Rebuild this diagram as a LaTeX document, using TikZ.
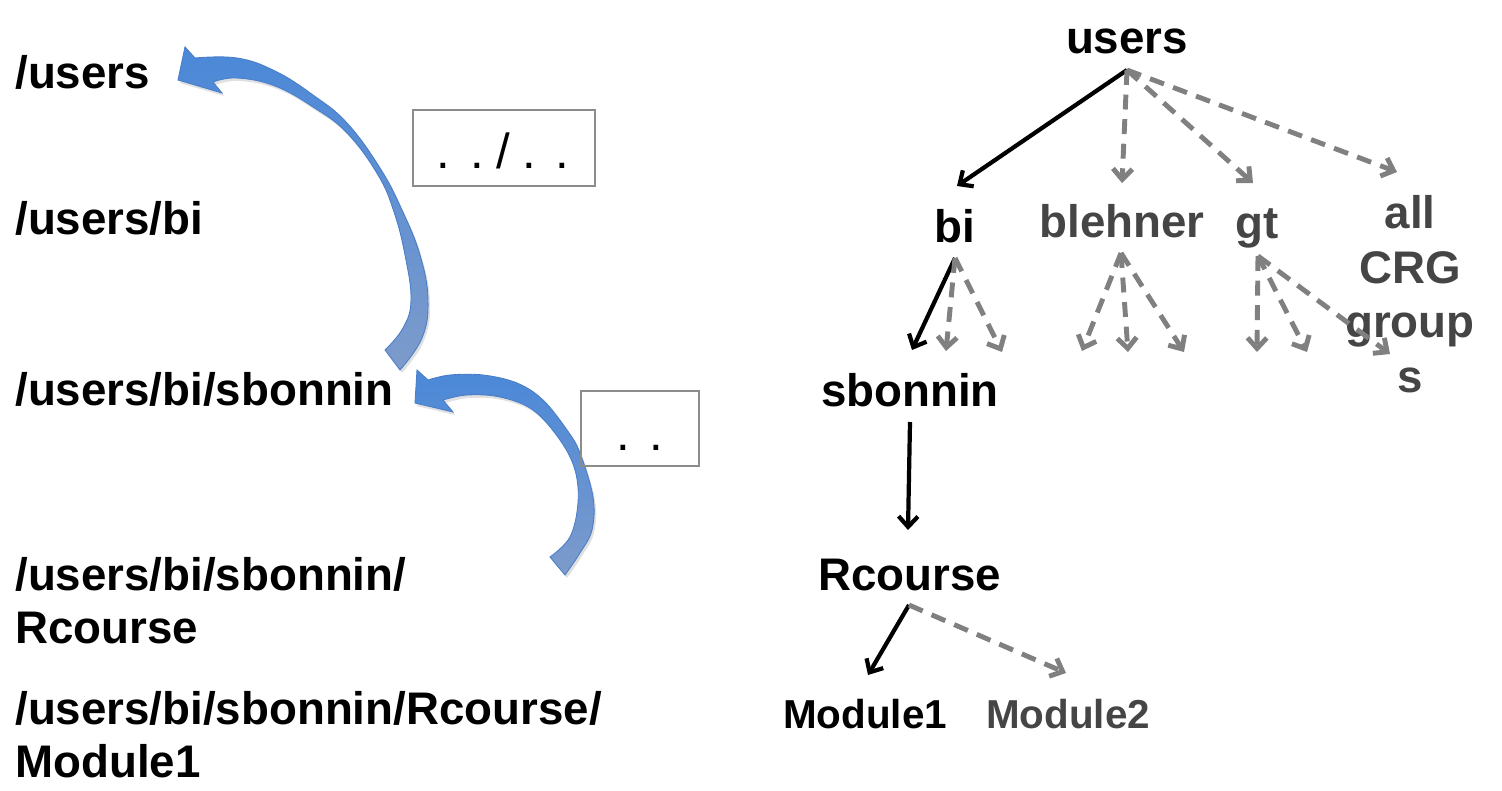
\documentclass[tikz,border=0pt]{standalone}
\usepackage{fontspec}
\setmainfont{Liberation Sans}
\usetikzlibrary{arrows.meta}
\definecolor{txtgray}{HTML}{454545}
\definecolor{dashgray}{HTML}{808080}
\definecolor{bluetop}{HTML}{4A88D8}
\definecolor{bluebot}{HTML}{7D9BCB}
\definecolor{blueedge}{HTML}{4A7EC8}
\definecolor{boxgray}{HTML}{8C8C8C}
\tikzset{
  big/.style={font=\fontsize{26}{31}\selectfont\bfseries, inner sep=0pt},
  small/.style={font=\fontsize{23}{27}\selectfont\bfseries, inner sep=0pt},
  grayt/.style={text=txtgray},
  solidarr/.style={draw=black, line width=2.4pt, -{Straight Barb[length=6pt,width=11pt,line width=2.4pt]}},
  dasharr/.style={draw=dashgray, line width=2.8pt, dash pattern=on 8.5pt off 5.5pt, -{Straight Barb[length=6pt,width=11pt,line width=2.8pt]}},
  pathbox/.style={draw=boxgray, line width=0.8pt, inner sep=0pt},
  bluearrow/.style={draw=blueedge, line width=0.5pt, top color=bluetop, bottom color=bluebot},
  shadowarrow/.style={fill=black, opacity=0.12},
}
\begin{document}
\begin{tikzpicture}[x=0.02cm, y=-0.02cm]
\useasboundingbox (0,0) rectangle (1502,791);

% ---- left column paths
\node[big, anchor=base west] (p1) at (15,88) {/users};
\node[big, anchor=base west] (p2) at (15,234) {/users/bi};
\node[big, anchor=base west] (p3) at (15,405) {/users/bi/sbonnin};
\node[big, anchor=base west] (p4a) at (15,590) {/users/bi/sbonnin/};
\node[big, anchor=base west] (p4b) at (15,643) {Rcourse};
\node[big, anchor=base west] (p5a) at (15,724) {/users/bi/sbonnin/Rcourse/};
\node[big, anchor=base west] (p5b) at (15,777) {Module1};

% ---- curved blue arrow 1 (../..)
\begin{scope}[shift={(2,3)}]
\fill[shadowarrow] plot[smooth, tension=0.7] coordinates {(400,370) (422,338) (428,300) (420,255) (402,210) (380,168) (347,123) (313,95) (275,71) (237,58) (195,58)}
  -- (185,47) -- (178,80) -- (222,93)
  -- plot[smooth, tension=0.7] coordinates {(213,82) (237,78) (275,86) (313,107) (347,133) (378,175) (394,212) (405,255) (411,300) (403,328) (385,350)} -- cycle;
\end{scope}
\path[bluearrow] plot[smooth, tension=0.7] coordinates {(400,370) (422,338) (428,300) (420,255) (402,210) (380,168) (347,123) (313,95) (275,71) (237,58) (195,58)}
  -- (185,47) -- (178,80) -- (222,93)
  -- plot[smooth, tension=0.7] coordinates {(213,82) (237,78) (275,86) (313,107) (347,133) (378,175) (394,212) (405,255) (411,300) (403,328) (385,350)} -- cycle;

% ---- curved blue arrow 2 (..)
\begin{scope}[shift={(2,3)}]
\fill[shadowarrow] plot[smooth, tension=0.6] coordinates {(565,575) (580,553) (592,530) (593,497) (580,453) (567,430) (543,400) (517,383) (483,375) (450,375) (428,380)}
  -- (417,370) -- (415,403) -- (453,412)
  -- plot[smooth, tension=0.6] coordinates {(443,400) (467,395) (500,397) (533,410) (560,440) (575,470) (578,503) (570,537) (550,557)} -- cycle;
\end{scope}
\path[bluearrow] plot[smooth, tension=0.6] coordinates {(565,575) (580,553) (592,530) (593,497) (580,453) (567,430) (543,400) (517,383) (483,375) (450,375) (428,380)}
  -- (417,370) -- (415,403) -- (453,412)
  -- plot[smooth, tension=0.6] coordinates {(443,400) (467,395) (500,397) (533,410) (560,440) (575,470) (578,503) (570,537) (550,557)} -- cycle;

% ---- boxes
\node[pathbox, minimum width=182*0.02cm, minimum height=76*0.02cm] (b1) at (504,148) {};
\node[font=\fontsize{28}{30}\selectfont, inner sep=0pt, anchor=base] (t1) at (503,168) {.\hspace{0.4em}.\hspace{0.25em}/\hspace{0.25em}.\hspace{0.4em}.};
\node[pathbox, minimum width=118*0.02cm, minimum height=75*0.02cm] (b2) at (640,428.5) {};
\node[font=\fontsize{28}{30}\selectfont, inner sep=0pt, anchor=base] (t2) at (640,450) {.\hspace{0.4em}.};

% ---- tree nodes
\node[big, anchor=base] (users) at (1127,53) {users};
\node[big, anchor=base] (bi) at (955,242) {bi};
\node[big, grayt, anchor=base] (blehner) at (1122,237) {blehner};
\node[big, grayt, anchor=base] (gt) at (1257,238) {gt};
\node[big, grayt, anchor=base, align=center] (all) at (1410,392) {all\\CRG\\group\\s};
\node[big, anchor=base] (sbonnin) at (910,406) {sbonnin};
\node[big, anchor=base] (rcourse) at (910,590) {Rcourse};
\node[small, anchor=base] (mod1) at (865,728) {Module1};
\node[small, grayt, anchor=base] (mod2) at (1068,728) {Module2};

% ---- connector points
\coordinate (us) at (1127,70);
\coordinate (bis) at (955,258);
\coordinate (bls) at (1121,253);
\coordinate (gts) at (1258,256);
\coordinate (sbs) at (910,422);
\coordinate (rcs) at (909,605);
\coordinate (bi-in) at (957,186);
\coordinate (bl-in) at (1122,183);
\coordinate (gt-in) at (1253,183);
\coordinate (all-in) at (1397,172);
\coordinate (sb-in) at (912,350);
\coordinate (bic2) at (946,351);
\coordinate (bic3) at (1002,352);
\coordinate (blc1) at (1082,351);
\coordinate (blc2) at (1128,352);
\coordinate (blc3) at (1184,352);
\coordinate (gtc1) at (1257,352);
\coordinate (gtc2) at (1307,352);
\coordinate (gtc3) at (1390,354);
\coordinate (rc-in) at (908,530);
\coordinate (m1-in) at (868,675);
\coordinate (m2-in) at (1066,673);

% ---- connectors
\draw[solidarr] (us) -- (bi-in);
\draw[dasharr] (us) -- (bl-in);
\draw[dasharr] (us) -- (gt-in);
\draw[dasharr] (us) -- (all-in);
\draw[solidarr] (bis) -- (sb-in);
\draw[dasharr] (bis) -- (bic2);
\draw[dasharr] (bis) -- (bic3);
\draw[dasharr] (bls) -- (blc1);
\draw[dasharr] (bls) -- (blc2);
\draw[dasharr] (bls) -- (blc3);
\draw[dasharr] (gts) -- (gtc1);
\draw[dasharr] (gts) -- (gtc2);
\draw[dasharr] (gts) -- (gtc3);
\draw[solidarr] (sbs) -- (rc-in);
\draw[solidarr] (rcs) -- (m1-in);
\draw[dasharr] (rcs) -- (m2-in);
\end{tikzpicture}
\end{document}
